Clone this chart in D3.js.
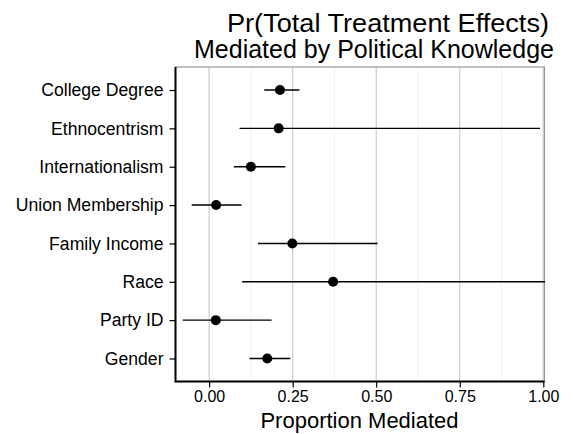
<!DOCTYPE html>
<html>
<head>
<meta charset="utf-8">
<script src="https://cdn.jsdelivr.net/npm/d3@7"></script>
<style>
  body { margin: 0; background: #fff; }
  text { font-family: "Liberation Sans", Arial, sans-serif; fill: #000; }
</style>
</head>
<body>
<svg id="chart" width="573" height="434"></svg>
<script>
// Covariates, top to bottom
const categories = ["College Degree", "Ethnocentrism", "Internationalism", "Union Membership",
                    "Family Income", "Race", "Party ID", "Gender"];
// Point estimate of proportion mediated and interval bounds
const estimate = [0.212, 0.208, 0.125, 0.021, 0.249, 0.371, 0.020, 0.174];
const lower    = [0.165, 0.091, 0.074, -0.052, 0.146, 0.099, -0.079, 0.121];
const upper    = [0.270, 0.990, 0.228, 0.097, 0.504, 1.005, 0.187, 0.243];
const xTicks = [0, 0.25, 0.5, 0.75, 1.0];
const xMinor = [0.125, 0.375, 0.625, 0.875];

const svg = d3.select("#chart");
const panel = { left: 175.5, right: 544.5, top: 67, bottom: 381.5 };

const x = d3.scaleLinear().domain([-0.1006, 1.0036]).range([panel.left, panel.right]);
const y = d3.scalePoint().domain(categories).range([panel.top, panel.bottom]).padding(0.6);

// panel background and grid
svg.append("rect")
  .attr("x", panel.left).attr("y", panel.top)
  .attr("width", panel.right - panel.left).attr("height", panel.bottom - panel.top)
  .attr("fill", "#fff");

svg.append("g").selectAll("line").data(xMinor).join("line")
  .attr("x1", d => x(d)).attr("x2", d => x(d))
  .attr("y1", panel.top).attr("y2", panel.bottom)
  .attr("stroke", "#f2f2f2").attr("stroke-width", 1);

svg.append("g").selectAll("line").data(xTicks).join("line")
  .attr("x1", d => x(d)).attr("x2", d => x(d))
  .attr("y1", panel.top).attr("y2", panel.bottom)
  .attr("stroke", "#cccccc").attr("stroke-width", 1.2);

// panel border
svg.append("rect")
  .attr("x", panel.left).attr("y", panel.top)
  .attr("width", panel.right - panel.left).attr("height", panel.bottom - panel.top)
  .attr("fill", "none").attr("stroke", "#9a9a9a").attr("stroke-width", 1.2);

// interval lines and points
const rows = categories.map((c, i) => ({ c, est: estimate[i], lo: lower[i], hi: upper[i] }));

svg.append("g").selectAll("line").data(rows).join("line")
  .attr("x1", d => x(d.lo)).attr("x2", d => x(d.hi))
  .attr("y1", d => y(d.c)).attr("y2", d => y(d.c))
  .attr("stroke", "#000").attr("stroke-width", 1.4);

svg.append("g").selectAll("circle").data(rows).join("circle")
  .attr("cx", d => x(d.est)).attr("cy", d => y(d.c))
  .attr("r", 5).attr("fill", "#000");

// axes
const xAxis = svg.append("g")
  .attr("transform", `translate(0,${panel.bottom})`)
  .call(d3.axisBottom(x).tickValues(xTicks).tickFormat(d3.format(".2f")).tickSize(6).tickPadding(3));
xAxis.select(".domain").attr("stroke", "#000").attr("stroke-width", 2)
  .attr("d", `M${panel.left},0H${panel.right}`);
xAxis.selectAll(".tick line").attr("stroke", "#000").attr("stroke-width", 1.2);
xAxis.selectAll(".tick text").style("font-size", "16px").style("font-family", "Liberation Sans, Arial, sans-serif");

const yAxis = svg.append("g")
  .attr("transform", `translate(${panel.left},0)`)
  .call(d3.axisLeft(y).tickSize(6).tickPadding(6));
yAxis.select(".domain").attr("stroke", "#000").attr("stroke-width", 2)
  .attr("d", `M0,${panel.top}V${panel.bottom + 1}`);
yAxis.selectAll(".tick line").attr("stroke", "#000").attr("stroke-width", 1.2);
yAxis.selectAll(".tick text").style("font-size", "17.6px").style("font-family", "Liberation Sans, Arial, sans-serif");

// axis title
svg.append("text")
  .attr("x", 359.5).attr("y", 428)
  .attr("text-anchor", "middle").style("font-size", "22px")
  .text("Proportion Mediated");

// title
svg.append("text")
  .attr("x", 388).attr("y", 32)
  .attr("text-anchor", "middle").style("font-size", "25px")
  .attr("textLength", 322).attr("lengthAdjust", "spacingAndGlyphs")
  .text("Pr(Total Treatment Effects)");
svg.append("text")
  .attr("x", 374).attr("y", 58)
  .attr("text-anchor", "middle").style("font-size", "25px")
  .text("Mediated by Political Knowledge");
</script>
</body>
</html>
